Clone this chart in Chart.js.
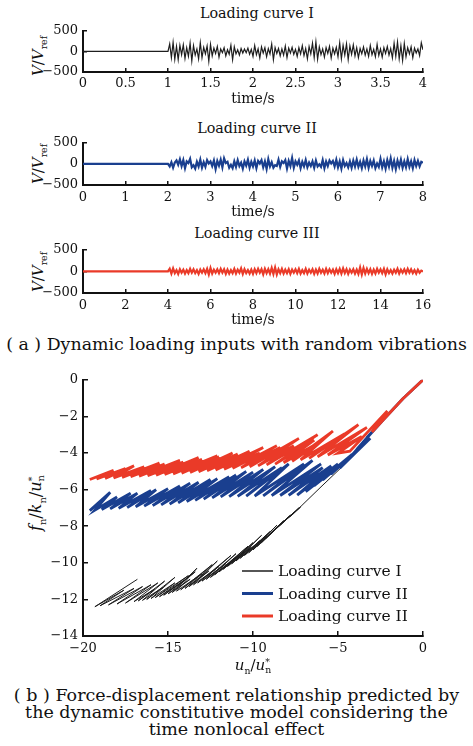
<!DOCTYPE html>
<html lang="en">
<head>
<meta charset="UTF-8" />
<title>Loading curves</title>
<script src="https://cdn.jsdelivr.net/npm/chart.js"></script>
<style>
  body { margin: 0; background: #fff; }
  #wrap { position: relative; width: 473px; height: 746px; font-family: "DejaVu Serif", serif; color: #111; }
  #wrap canvas { position: absolute; left: 0; }
  .txt { position: absolute; white-space: nowrap; transform: translate(-50%, -50%); }
  .ylab { position: absolute; white-space: nowrap; transform: translate(-50%, -50%) rotate(-90deg); font-size: 15px; }
  .ylab sub, .xlab sub { font-size: 0.62em; }
  .ss { display: inline-block; vertical-align: middle; font-size: 0.62em; line-height: 0.85; text-align: left; }
  .cap { position: absolute; left: 0; width: 473px; text-align: center; white-space: nowrap; }
</style>
</head>
<body>
<div id="wrap">
  <div class="txt" style="left:257px;top:13px;font-size:14.3px">Loading curve I</div>
  <div class="txt" style="left:257px;top:128px;font-size:14.3px">Loading curve II</div>
  <div class="txt" style="left:257px;top:233px;font-size:14.3px">Loading curve III</div>

  <div class="ylab" style="left:39px;top:56px"><i>V</i>/<i>V</i><sub>ref</sub></div>
  <div class="ylab" style="left:39px;top:164px"><i>V</i>/<i>V</i><sub>ref</sub></div>
  <div class="ylab" style="left:39px;top:272px"><i>V</i>/<i>V</i><sub>ref</sub></div>
  <div class="ylab" style="left:37px;top:503px;font-size:16px"><i>f</i><sub>n</sub>/<i>k</i><sub>n</sub>/<i>u</i><span class="ss">*<br>n</span></div>

  <canvas id="c1" width="473" height="96" style="top:14px"></canvas>
  <canvas id="c2" width="473" height="97" style="top:126px"></canvas>
  <canvas id="c3" width="473" height="98" style="top:233px"></canvas>
  <canvas id="c4" width="473" height="318" style="top:362px"></canvas>

  <div class="txt xlab" style="left:253px;top:666px;font-size:15px"><i>u</i><sub>n</sub>/<i>u</i><span class="ss">*<br>n</span></div>

  <div class="cap" style="top:334px;font-size:17.4px">( a ) Dynamic loading inputs with random vibrations</div>
  <div class="cap" style="top:687px;font-size:17.5px;line-height:17px">( b ) Force-displacement relationship predicted by<br>the dynamic constitutive model considering the<br>time nonlocal effect</div>
</div>

<script>
  // ---- panel (a): random vibration inputs ----
  const start1 = 1, dt1 = 0.02;
  const signal1 = [
    0, 180, -150, 220, -190, 120, -200, 150, -80, 160,
    -170, 90, -120, 200, -230, 140, -90, 60, -180, 210,
    -150, 100, -60, 130, -240, 170, -110, 80, -50, 120,
    -140, 60, -30, 90, -110, 40, -70, 150, -200, 110,
    -60, 40, -90, 70, -40, 60, -30, 80, -70, 50,
    -120, 140, -80, 60, -160, 110, -40, 90, -130, 70,
    -60, 180, -200, 90, -50, 70, -110, 60, -90, 130,
    -150, 80, -40, 100, -70, 50, -120, 90, -60, 140,
    -100, 70, -180, 120, -60, 200, -150, 230, -190, 110,
    -80, 60, -140, 90, -50, 120, -160, 80, -60, 100,
    -130, 210, -180, 150, -90, 180, -200, 130, -70, 160,
    -110, 90, -150, 70, -60, 110, -90, 60, -120, 140,
    -80, 50, -130, 170, -100, 60, -140, 90, -50, 120,
    -90, 70, -160, 200, -120, 230, -180, 140, -220, 190,
    -130, 90, -60, 110, -150, 80, -40, 60, -100, 210,
    40
  ];

  const start2 = 2, dt2 = 0.04;
  const signal2 = [
    0, -60, 40, -90, 30, 80, -20, 110, -50, 90,
    -100, 60, 20, 120, -80, -30, -110, 50, -60, 100,
    -90, 40, -70, 90, 10, 60, -50, 80, -120, 70,
    -40, 100, -80, 130, 20, 50, -90, -20, -100, 60,
    -70, 90, -50, 30, -110, 60, -40, 100, -90, 50,
    -60, 80, -100, 70, 10, 90, -80, 60, -120, 110,
    -60, 40, -90, -30, -50, 100, -70, 60, 20, 90,
    -110, 70, -50, 140, -90, 60, -20, 80, -100, 50,
    -60, 90, -80, 30, -50, 60, -90, 80, -60, -10,
    -70, 90, -100, 60, -50, 80, 10, 70, -60, 100,
    -80, 60, -110, 90, -50, 20, -80, 60, -90, 80,
    -60, 100, -70, 50, -100, 80, -60, 110, -90, 70,
    -50, 80, -100, 10, -70, 120, -80, 60, -110, 90,
    -60, 130, -90, 70, -120, 80, -60, 100, -90, 60,
    -80, 110, -70, 60, -100, 90, -50, 70, -60, 50,
    30
  ];

  const start3 = 4, dt3 = 0.08;
  const signal3 = [
    0, 60, -50, 70, -40, 30, -60, 50, -30, 40,
    -50, 30, -40, 60, -30, 50, -40, 30, -60, 40,
    -30, 50, -40, 60, -70, 80, -50, 40, -30, 50,
    -40, 60, -30, 50, -60, 40, -50, 30, -40, 60,
    -50, 40, -30, 70, -60, 50, -40, 30, -50, 40,
    -60, 50, -40, 60, -30, 50, -70, 60, -40, 50,
    -50, 80, -60, 90, -70, 50, -40, 60, -50, 40,
    -40, 50, -60, 40, -30, 50, -40, 60, -50, 30,
    -40, 60, -50, 40, -30, 50, -60, 40, -50, 60,
    -30, 40, -50, 60, -40, 50, -30, 40, -60, 50,
    -40, 60, -50, 70, -40, 50, -60, 40, -30, 50,
    -50, 40, -60, 90, -70, 80, -50, 60, -40, 50,
    -60, 40, -50, 60, -30, 50, -40, 60, -70, 50,
    -40, 30, -50, 40, -30, 60, -50, 40, -30, 50,
    -40, 60, -30, 50, -40, 30, -50, 40, -30, 20,
    0
  ];

  const xMax = [4, 8, 16];
  const xStep = [0.5, 1, 2];
  const vTicks = [-500, 500, 500]; // min, max, step

  // ---- panel (b): force-displacement loops [u/u*, f/k/u*] ----
  const curveI = [
    [0, 0], [-1.2, -1.05], [-2.25, -2.1], [-3.5, -3.4], [-4.7, -4.7], [-6.0, -5.85], [-7.0, -6.75], [-7.6, -7.3],
    [-7.8, -7.45], [-7.2, -6.95], [-8.0, -7.6], [-7.3, -7.0], [-8.25, -7.8], [-7.6, -7.25],
    [-8.5, -8.0], [-7.5, -7.2], [-8.75, -8.22], [-7.9, -7.5], [-9.0, -8.45], [-7.8, -7.4],
    [-9.25, -8.67], [-8.3, -7.85], [-9.5, -8.9], [-8.2, -7.7], [-9.75, -9.1], [-8.7, -8.15],
    [-10.0, -9.3], [-8.6, -7.95], [-10.25, -9.45], [-9.2, -8.55], [-10.5, -9.6], [-9.0, -8.3],
    [-10.75, -9.75], [-9.6, -8.8], [-11.0, -9.9], [-9.5, -8.5], [-11.25, -10.05], [-10.1, -9.15],
    [-11.5, -10.2], [-10.0, -8.9], [-11.75, -10.35], [-10.6, -9.45], [-12.0, -10.5], [-10.3, -9.1],
    [-12.25, -10.65], [-11.0, -9.7], [-12.5, -10.8], [-11.0, -9.5], [-12.75, -10.9], [-11.6, -10.05],
    [-13.0, -11.0], [-11.3, -9.6], [-13.25, -11.1], [-12.0, -10.2], [-13.5, -11.2], [-12.1, -9.9],
    [-13.75, -11.3], [-12.6, -10.45], [-14.0, -11.4], [-12.4, -10.1], [-14.25, -11.47], [-13.0, -10.6],
    [-14.5, -11.55], [-13.3, -10.3], [-14.75, -11.62], [-13.7, -10.9], [-15.0, -11.7], [-13.4, -10.5],
    [-15.25, -11.77], [-14.1, -11.0], [-15.5, -11.85], [-13.8, -10.7], [-15.75, -11.9], [-14.6, -11.1],
    [-16.0, -11.95], [-14.6, -10.8], [-16.25, -12.0], [-15.3, -11.35], [-16.5, -12.05], [-15.2, -11.0],
    [-16.75, -12.08], [-15.8, -11.45], [-17.0, -12.12], [-15.6, -11.1], [-17.5, -12.2], [-16.0, -11.2],
    [-18.0, -12.25], [-16.5, -11.3], [-18.5, -12.3], [-17.0, -11.4], [-19.0, -12.35], [-17.6, -11.5],
    [-19.3, -12.4], [-16.8, -10.9]
  ];

  const curveII = [
    [0, 0], [-1.2, -1.05], [-2.35, -2.2],
    [-3.3, -3.15], [-2.35, -2.2], [-3.9, -3.8], [-2.8, -2.65], [-4.4, -4.35], [-3.1, -3.2],
    [-4.9, -4.83], [-3.5, -3.55], [-5.4, -5.14], [-4.0, -3.95], [-5.9, -5.47], [-4.2, -4.1],
    [-6.4, -5.79], [-4.6, -4.45], [-6.9, -6.11], [-5.0, -4.6], [-7.4, -6.3], [-5.4, -4.7],
    [-7.9, -6.31], [-5.9, -4.8], [-8.4, -6.32], [-6.0, -4.6], [-8.9, -6.33], [-6.5, -4.4],
    [-9.4, -6.34], [-7.0, -4.6], [-9.9, -6.35], [-7.9, -4.6], [-10.4, -6.36], [-8.3, -4.8],
    [-10.9, -6.37], [-8.7, -4.75], [-11.4, -6.38], [-9.4, -4.9], [-11.9, -6.4], [-10.0, -5.05],
    [-12.4, -6.45], [-10.4, -5.0], [-12.9, -6.52], [-11.0, -5.2], [-13.4, -6.59], [-11.4, -5.3],
    [-13.9, -6.65], [-12.1, -5.4], [-14.4, -6.72], [-12.5, -5.45], [-14.9, -6.79], [-13.2, -5.6],
    [-15.4, -6.83], [-13.7, -5.65], [-15.9, -6.87], [-14.3, -5.8], [-16.4, -6.9], [-15.0, -5.95],
    [-16.9, -6.94], [-15.7, -6.0], [-17.4, -6.98], [-16.0, -6.05], [-17.9, -7.02], [-16.8, -6.2],
    [-18.4, -7.05], [-17.2, -6.2], [-18.9, -7.09], [-18.0, -6.4], [-19.3, -7.12], [-18.4, -6.15],
    [-19.6, -7.15]
  ];

  const curveIII = [
    [0, 0], [-1.2, -1.05], [-2.25, -2.1], [-3.0, -2.85], [-2.1, -1.7], [-4.3, -3.9],
    [-5.0, -4.01], [-3.6, -3.1], [-5.6, -4.11], [-3.3, -2.6], [-6.2, -4.21], [-3.8, -2.45],
    [-6.7, -4.29], [-4.6, -2.95], [-7.2, -4.37], [-5.3, -2.8], [-7.7, -4.45], [-5.9, -3.3],
    [-8.2, -4.53], [-6.4, -3.3], [-8.7, -4.61], [-6.2, -3.0], [-9.2, -4.65], [-7.6, -3.6],
    [-9.7, -4.7], [-7.3, -3.2], [-10.2, -4.75], [-8.4, -3.7], [-10.7, -4.8], [-8.6, -3.6],
    [-11.2, -4.84], [-9.6, -4.0], [-11.7, -4.88], [-9.4, -3.7], [-12.2, -4.93], [-10.2, -3.9],
    [-12.7, -4.97], [-10.9, -4.05], [-13.2, -5.02], [-11.2, -4.0], [-13.7, -5.07], [-12.0, -4.2],
    [-14.2, -5.11], [-12.1, -4.15], [-14.7, -5.14], [-13.0, -4.35], [-15.2, -5.17], [-13.2, -4.25],
    [-15.7, -5.21], [-14.1, -4.5], [-16.2, -5.24], [-14.3, -4.4], [-16.7, -5.27], [-15.2, -4.6],
    [-17.2, -5.3], [-15.5, -4.55], [-17.7, -5.33], [-16.4, -4.75], [-18.2, -5.36], [-17.0, -4.7],
    [-18.7, -5.39], [-17.5, -4.85], [-19.2, -5.42], [-18.2, -4.95], [-19.6, -5.45]
  ];

  const curveLabels = ['Loading curve I', 'Loading curve II', 'Loading curve II'];
  const colors = ['#1e1e1e', '#1a3f8f', '#ea3a28'];

  const FONT = 'DejaVu Serif';
  const minus = v => String(v).replace('-', '\u2212');

  function axisBase(extra) {
    return Object.assign({
      type: 'linear',
      border: { color: '#111', width: 2 },
      grid: { drawOnChartArea: false, color: '#111', lineWidth: 1.5, tickLength: -4 },
      ticks: { color: '#111', font: { family: FONT, size: 13 }, callback: minus }
    }, extra);
  }

  function timeChart(id, start, dt, vals, xmax, step, color, width, labelPad) {
    const pts = [{ x: 0, y: 0 }];
    vals.forEach((v, i) => pts.push({ x: start + i * dt, y: v }));
    new Chart(document.getElementById(id), {
      type: 'scatter',
      data: { datasets: [{ data: pts, showLine: true, pointRadius: 0, borderColor: color, borderWidth: width, tension: 0 }] },
      options: {
        responsive: false, animation: false,
        layout: { padding: { top: 10, right: 50, left: 0, bottom: 0 } },
        plugins: { legend: { display: false }, tooltip: { enabled: false } },
        scales: {
          x: axisBase({
            min: 0, max: xmax,
            ticks: { stepSize: step, padding: labelPad, maxRotation: 0, autoSkip: false, color: '#111', font: { family: FONT, size: 13 }, callback: minus },
            title: { display: true, text: 'time/s', color: '#111', font: { family: FONT, size: 14 }, padding: { top: 0, bottom: 2 } },
            afterFit: s => { s.height = 38; }
          }),
          y: axisBase({
            min: vTicks[0], max: vTicks[1],
            ticks: { stepSize: vTicks[2], padding: 9, color: '#111', font: { family: FONT, size: 13 }, callback: minus },
            afterFit: s => { s.width = 83; }
          })
        }
      }
    });
  }

  timeChart('c1', start1, dt1, signal1, xMax[0], xStep[0], colors[0], 1.2, 8);
  timeChart('c2', start2, dt2, signal2, xMax[1], xStep[1], colors[1], 2.2, 9);
  timeChart('c3', start3, dt3, signal3, xMax[2], xStep[2], colors[2], 2.2, 9);

  const boxLegend = {
    id: 'boxLegend',
    afterDraw(chart) {
      const { ctx, chartArea } = chart;
      const x0 = chartArea.right - 181, y0 = chartArea.bottom - 65;
      chart.data.datasets.forEach((ds, i) => {
        const y = y0 + i * 22.5;
        ctx.save();
        ctx.strokeStyle = ds.borderColor;
        ctx.lineWidth = i === 0 ? 1.5 : 3;
        ctx.beginPath(); ctx.moveTo(x0, y); ctx.lineTo(x0 + 31, y); ctx.stroke();
        ctx.fillStyle = '#111';
        ctx.font = '15.5px "' + FONT + '"';
        ctx.textBaseline = 'middle';
        ctx.fillText(ds.label, x0 + 36, y + 1);
        ctx.restore();
      });
    }
  };

  const loops = [curveI, curveII, curveIII];
  new Chart(document.getElementById('c4'), {
    type: 'scatter',
    data: {
      datasets: loops.map((pts, i) => ({
        label: curveLabels[i],
        data: pts.map(p => ({ x: p[0], y: p[1] })),
        showLine: true, pointRadius: 0, tension: 0,
        borderColor: colors[i], borderWidth: i === 0 ? 1 : 2.8,
        order: 3 - i
      }))
    },
    options: {
      responsive: false, animation: false,
      layout: { padding: { top: 10, right: 50, left: 0, bottom: 0 } },
      plugins: { legend: { display: false }, tooltip: { enabled: false } },
      scales: {
        x: axisBase({
          min: -20, max: 0,
          grid: { drawOnChartArea: false, color: '#111', lineWidth: 1.5, tickLength: -5 },
          ticks: { stepSize: 5, padding: 10, color: '#111', font: { family: FONT, size: 13 }, callback: minus },
          afterFit: s => { s.height = 44; }
        }),
        y: axisBase({
          min: -14, max: 0,
          grid: { drawOnChartArea: false, color: '#111', lineWidth: 1.5, tickLength: -5 },
          ticks: { stepSize: 2, padding: 10, color: '#111', font: { family: FONT, size: 13 }, callback: minus },
          afterFit: s => { s.width = 83; }
        })
      }
    },
    plugins: [boxLegend]
  });
</script>
</body>
</html>
